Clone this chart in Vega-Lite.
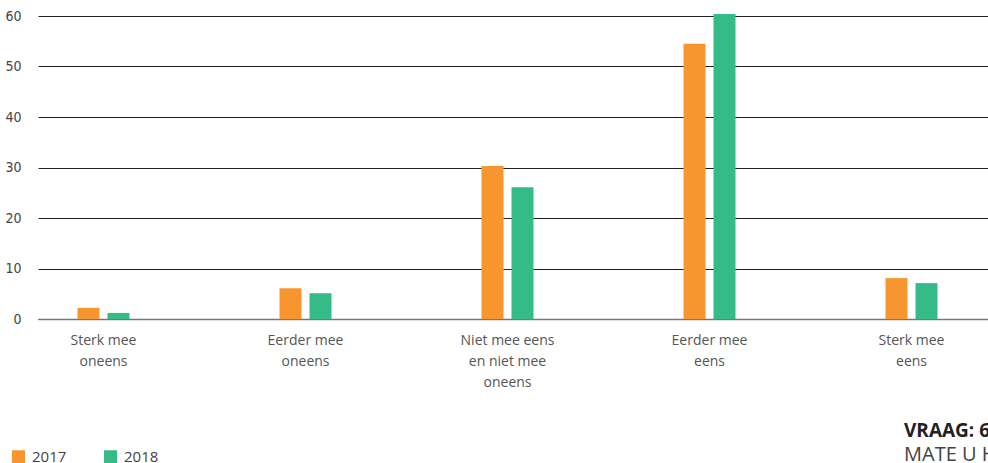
{
  "$schema": "https://vega.github.io/schema/vega-lite/v6.json",
  "width": 950,
  "height": 303,
  "autosize": {"type": "none"},
  "padding": {"left": 38, "top": 16, "right": 0, "bottom": 144},
  "background": "#ffffff",
  "config": {
    "view": {"stroke": null},
    "font": "Open Sans"
  },
  "title": {
    "text": "VRAAG: 6",
    "subtitle": "MATE U HI",
    "orient": "bottom",
    "anchor": "start",
    "frame": "group",
    "dx": 866,
    "offset": -43,
    "font": "Open Sans",
    "fontSize": 19,
    "fontWeight": "bold",
    "color": "#222222",
    "subtitleFont": "Open Sans",
    "subtitleFontSize": 20,
    "subtitleColor": "#444444",
    "subtitlePadding": 4
  },
  "data": {
    "values": [
      {"cat": "Sterk mee oneens", "year": "2017", "value": 2.2},
      {"cat": "Sterk mee oneens", "year": "2018", "value": 1.2},
      {"cat": "Eerder mee oneens", "year": "2017", "value": 6.1},
      {"cat": "Eerder mee oneens", "year": "2018", "value": 5.1},
      {"cat": "Niet mee eens en niet mee oneens", "year": "2017", "value": 30.3},
      {"cat": "Niet mee eens en niet mee oneens", "year": "2018", "value": 26.1},
      {"cat": "Eerder mee eens", "year": "2017", "value": 54.5},
      {"cat": "Eerder mee eens", "year": "2018", "value": 60.4},
      {"cat": "Sterk mee eens", "year": "2017", "value": 8.1},
      {"cat": "Sterk mee eens", "year": "2018", "value": 7.1}
    ]
  },
  "mark": {"type": "bar"},
  "encoding": {
    "x": {
      "field": "cat",
      "type": "nominal",
      "sort": ["Sterk mee oneens", "Eerder mee oneens", "Niet mee eens en niet mee oneens", "Eerder mee eens", "Sterk mee eens"],
      "scale": {"paddingInner": 0.7426, "paddingOuter": 0.2228, "align": 0.439},
      "axis": {
        "title": null,
        "labelAngle": 0,
        "labelExpr": "datum.label == 'Niet mee eens en niet mee oneens' ? ['Niet mee eens', 'en niet mee', 'oneens'] : [slice(datum.label, 0, lastindexof(datum.label, ' ')), slice(datum.label, lastindexof(datum.label, ' ') + 1)]",
        "labelFont": "Open Sans",
        "labelFontSize": 14,
        "labelColor": "#555555",
        "labelLineHeight": 21,
        "labelPadding": 14,
        "labelLimit": 300,
        "ticks": false,
        "domainColor": "#777777",
        "domainWidth": 1.5,
        "grid": false
      }
    },
    "xOffset": {
      "field": "year",
      "type": "nominal",
      "scale": {"paddingInner": 0.2667, "paddingOuter": 0}
    },
    "y": {
      "field": "value",
      "type": "quantitative",
      "scale": {"domain": [0, 60], "nice": false},
      "axis": {
        "title": null,
        "values": [0, 10, 20, 30, 40, 50, 60],
        "grid": true,
        "gridColor": "#222222",
        "gridWidth": 1,
        "domain": false,
        "ticks": false,
        "labelPadding": 17,
        "labelFont": "DejaVu Sans Condensed, Roboto Condensed, Open Sans",
        "labelFontSize": 14,
        "labelColor": "#444444"
      }
    },
    "color": {
      "field": "year",
      "type": "nominal",
      "scale": {"domain": ["2017", "2018"], "range": ["#F7962F", "#35BB88"]},
      "legend": {
        "title": null,
        "orient": "none",
        "legendX": -27,
        "legendY": 433,
        "direction": "horizontal",
        "symbolType": "square",
        "symbolSize": 169,
        "symbolStrokeWidth": 0,
        "labelFont": "Open Sans",
        "labelFontSize": 15,
        "labelColor": "#444444",
        "labelOffset": 6,
        "columnPadding": 36
      }
    }
  }
}
